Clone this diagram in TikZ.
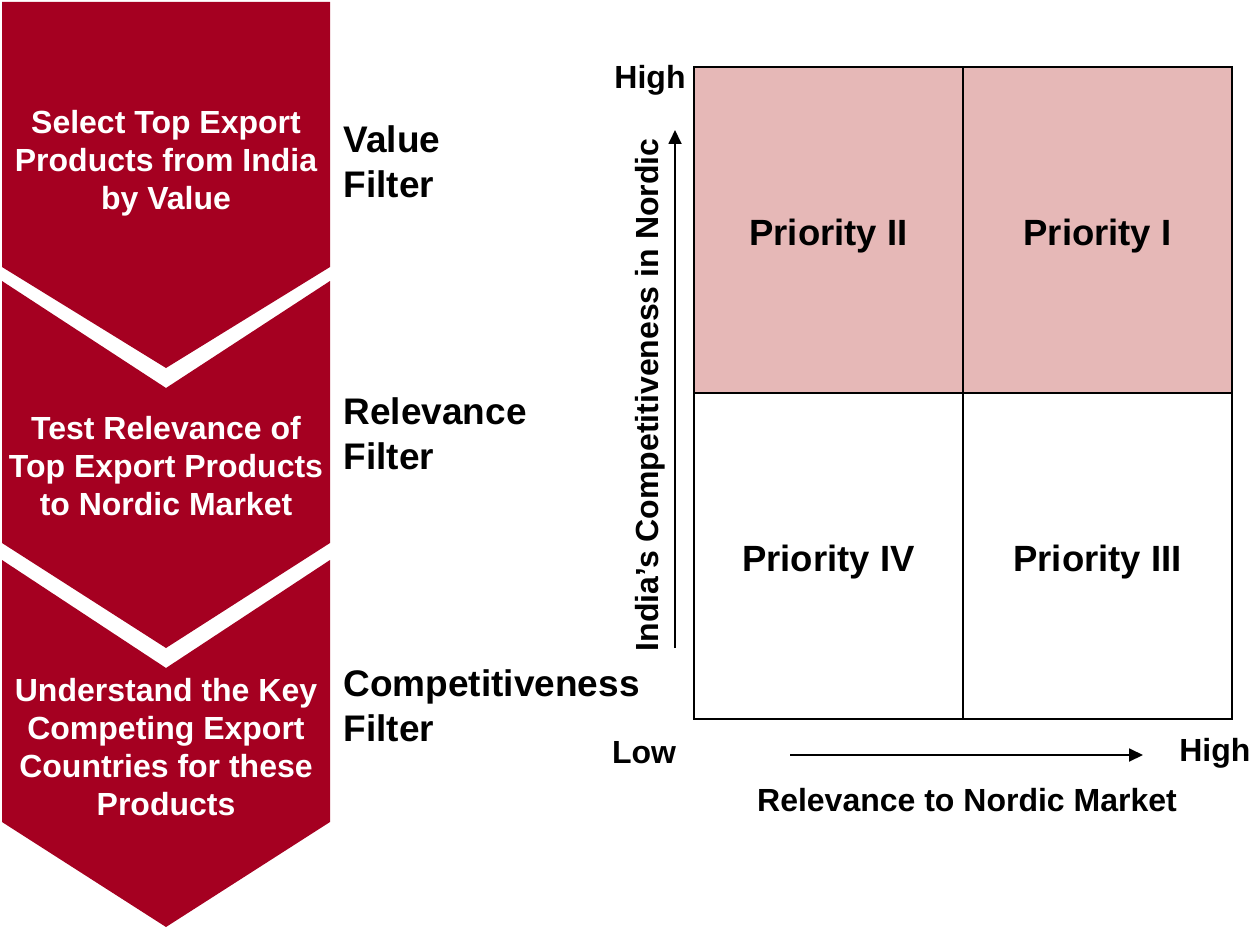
\documentclass[tikz,border=0pt]{standalone}
\usepackage{fontspec}
\setmainfont{Liberation Sans}
\usetikzlibrary{arrows.meta}

\definecolor{chevred}{HTML}{A50021}
\definecolor{quadpink}{HTML}{E6B8B7}

\tikzset{
  steptext/.style={text=white, align=center, font=\bfseries\fontsize{32}{38}\selectfont},
  filtertext/.style={anchor=west, align=left, font=\bfseries\fontsize{37}{45}\selectfont},
  quad/.style={draw=black, line width=2pt, minimum width=269pt, minimum height=326pt,
               inner sep=0pt, text height=30pt, text depth=0pt,
               font=\bfseries\fontsize{36.5}{43}\selectfont},
  axistext/.style={font=\bfseries\fontsize{32}{38}\selectfont},
  axisarrow/.style={black, line width=1.8pt, -{Triangle[length=14pt,width=13pt]}}
}

\begin{document}
\begin{tikzpicture}[x=1pt,y=-1pt]
\useasboundingbox (0,0) rectangle (1255,928);

%%%% chevrons
\fill[chevred] (2,2) -- (330,2) -- (330,267) -- (166,368) -- (2,267) -- cycle;
\fill[chevred] (2,281) -- (166,388) -- (330,281) -- (330,543) -- (166,648) -- (2,543) -- cycle;
\fill[chevred] (2,560) -- (166,668) -- (330,560) -- (330,822) -- (166,927) -- (2,822) -- cycle;

\node[steptext] (select) at (166,163) {Select Top Export\\Products from India\\by Value};
\node[steptext] (test) at (166,466) {Test Relevance of\\Top Export Products\\to Nordic Market};
\node[steptext] (understand) at (166,747) {Understand the Key\\Competing Export\\Countries for these\\Products};

%%%% filter names
\node[filtertext] (valf) at (340,162) {Value\\Filter};
\node[filtertext] (relf) at (340,434) {Relevance\\Filter};
\node[filtertext] (compf) at (340,706) {Competitiveness\\Filter};

%%%% priority matrix
\node[quad, fill=quadpink] (p2) at (828.5,230) {Priority II};
\node[quad, fill=quadpink] (p1) at (1097.5,230) {Priority I};
\node[quad] (p4) at (828.5,556) {Priority IV};
\node[quad] (p3) at (1097.5,556) {Priority III};

%%%% axes
\coordinate (ylow) at (675,648);
\coordinate (yhigh) at (675,130);
\coordinate (xlow) at (790,755);
\coordinate (xhigh) at (1143,755);
\draw[axisarrow] (ylow) -- (yhigh);
\draw[axisarrow] (xlow) -- (xhigh);

\node[axistext] (yhightxt) at (650,80) {High};
\node[axistext] (xlowtxt) at (644,753) {Low};
\node[axistext, anchor=east] (xhightxt) at (1254,753) {High};
\node[axistext, rotate=90] (ylabel) at (650,395) {India’s Competitiveness in Nordic};
\node[axistext] (xlabel) at (967,800) {Relevance to Nordic Market};

\end{tikzpicture}
\end{document}
